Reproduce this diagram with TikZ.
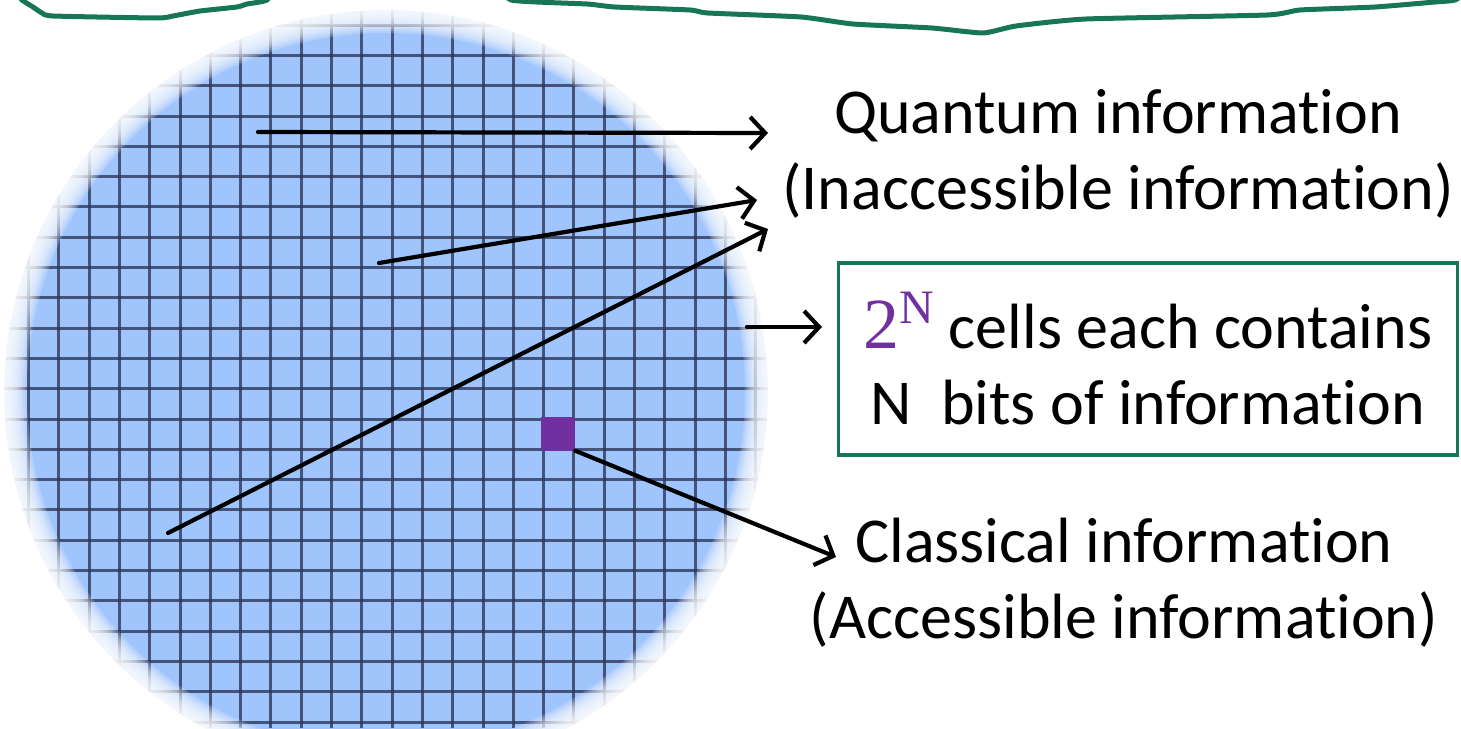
\documentclass[tikz,border=0pt]{standalone}
\usepackage{fontspec}
\setmainfont{Carlito}[Ligatures=NoCommon]
\newfontfamily\serifdigits{Liberation Serif}
\usepackage{xcolor}
\usepackage{tikz}
\usetikzlibrary{
	arrows.meta,
	calc,
	positioning
}
\definecolor{DarkGreen}{RGB}{24,118,88}
\definecolor{CellPurple}{RGB}{112,48,160}
\definecolor{DiscBlue}{RGB}{160,196,252}
\definecolor{GridNavy}{RGB}{45,55,90}

\begin{document}
\begin{tikzpicture}[x=1pt, y=-1pt,
		arr/.style={line width=4.2pt, line cap=round, -{Straight Barb[length=15pt, width=32pt, line width=4.2pt]}},
		txt/.style={font=\fontsize{64}{76}\selectfont, inner sep=0pt, align=center},
		gridline/.style={GridNavy, line width=3pt, opacity=0.8}
	]
		\useasboundingbox (0,0) rectangle (1461,728);
		\clip (0,0) rectangle (1461,728);
		\coordinate (O) at (386,392);
		\begin{scope}
			\clip (O) circle (383);
			\fill[DiscBlue] (O) circle (383);
			\foreach \k in {-7,...,20}
				\draw[gridline] ({180+30.3*\k},0) -- ({180+30.3*\k},728);
			\foreach \k in {-4,...,21}
				\draw[gridline] (0,{116+30.3*\k}) -- (790,{116+30.3*\k});
			\foreach \w in {4,8,...,48}
				\draw[white, opacity=0.18, line width=\w pt] (O) circle (383);
		\end{scope}
		\draw[white, line width=6pt] (O) circle (385);
		\draw[DarkGreen, line width=5pt, line cap=round, line join=round] plot[smooth, tension=0.3] coordinates {
			(16,-8) (22,0) (33,7) (42,13) (53,16) (157,18) (173,16) (200,11) (237,7) (247,4) (267,0) (290,-20)
			(490,-20) (511,0) (587,4) (615,7) (690,10) (708,13) (801,17) (853,24) (932,28) (983,33)
			(1016,26) (1086,19) (1267,15) (1300,10) (1375,7) (1435,2) (1455,0) (1470,-10)};
		\node[fill=CellPurple, minimum size=34pt, inner sep=0pt] (cell) at (558,433.5) {};
		\node[txt] (quantum) at (1118,154) {Quantum information\\(Inaccessible information)};
		\node[txt, draw=DarkGreen, line width=3.5pt, minimum width=619pt, minimum height=192pt] (cells) at (1148,359)
			{{\serifdigits\color{CellPurple}\fontsize{72}{76}\selectfont 2\raisebox{25pt}{\fontsize{48}{50}\selectfont N}} cells each contains\\N\ \ bits of information};
		\node[txt] (classical) at (1124,583) {Classical information\\(Accessible information)};
		\coordinate (q1) at (258,132);
		\coordinate (q1tip) at (768,133);
		\coordinate (q2) at (379,263);
		\coordinate (q2tip) at (757,200);
		\coordinate (q3) at (168,533);
		\coordinate (q3tip) at (768,229);
		\coordinate (b1) at (747,327);
		\coordinate (b1tip) at (822,327);
		\coordinate (c1tip) at (836,557);
		\draw[arr] (q1) -- (q1tip);
		\draw[arr] (q2) -- (q2tip);
		\draw[arr] (q3) -- (q3tip);
		\draw[arr] (b1) -- (b1tip);
		\draw[arr] (cell.south east) -- (c1tip);
	\end{tikzpicture}
\end{document}
